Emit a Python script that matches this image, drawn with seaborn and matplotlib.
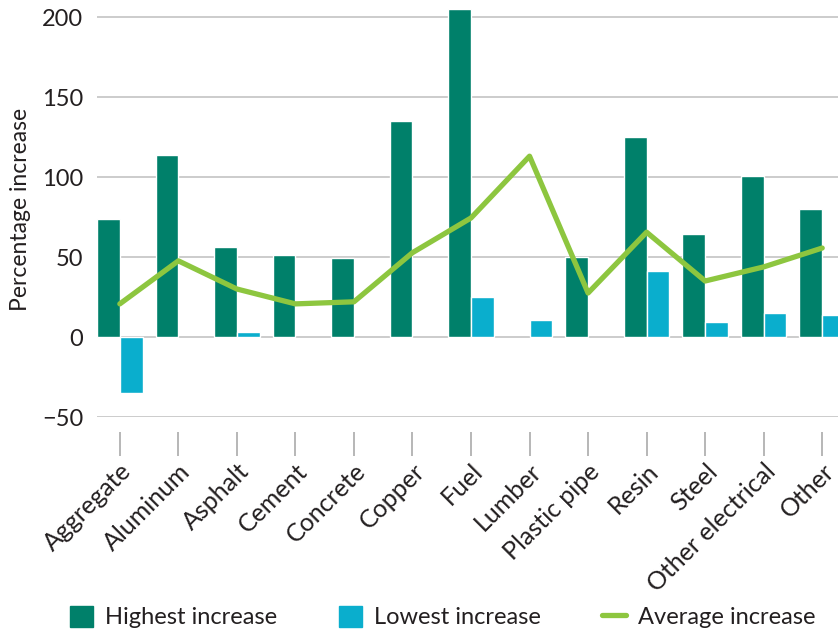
import numpy as np
import pandas as pd
import matplotlib
matplotlib.use("Agg")
import matplotlib.pyplot as plt
import seaborn as sns
from matplotlib.patches import Patch
from matplotlib.lines import Line2D

# Materials and their price increases (%)
materials = ['Aggregate', 'Aluminum', 'Asphalt', 'Cement', 'Concrete', 'Copper',
             'Fuel', 'Lumber', 'Plastic pipe', 'Resin', 'Steel',
             'Other electrical', 'Other']
highest = [74, 113.5, 56, 51, 49.5, 135, 205, np.nan, 50, 125, 64.5, 100.5, 80]
lowest = [-35, np.nan, 3, np.nan, np.nan, np.nan, 25, 10.7, np.nan, 41, 9.4, 15, 13.8]
average = [20.7, 47.6, 30, 20.7, 22, 52.7, 74.4, 113, 27.5, 65.5, 35, 43.8, 55.6]
y_ticks = [-50, 0, 50, 100, 150, 200]

c_high = '#00806a'
c_low = '#0aaecd'
c_avg = '#8dc63f'
txt = '#231f20'

sns.set_theme(style='white')
plt.rcParams['font.family'] = ['Lato', 'DejaVu Sans']

df = pd.DataFrame({
    'Material': materials * 2,
    'Value': highest + lowest,
    'Series': ['Highest increase'] * len(materials) + ['Lowest increase'] * len(materials),
})

fig = plt.figure(figsize=(8.38, 6.29), dpi=100)
ax = fig.add_axes([97 / 838, (629 - 417) / 629, 1 - 97 / 838, 416 / 629])

sns.barplot(data=df, x='Material', y='Value', hue='Series',
            palette=[c_high, c_low], width=0.78, ax=ax, legend=False,
            saturation=1, errorbar=None)
sns.lineplot(x=np.arange(len(materials)), y=average, color=c_avg, lw=3.8,
             ax=ax, label='Average increase', legend=False)

ax.set_ylim(-50, 210)
ax.set_xlim(-0.39, 12.27)
ax.set_yticks(y_ticks)
ax.set_yticklabels(['\u221250' if t < 0 else str(t) for t in y_ticks])
ax.yaxis.grid(True, color='#c8c8c8', lw=1.3)
ax.set_axisbelow(True)
for s in ax.spines.values():
    s.set_visible(False)
ax.spines['bottom'].set_position(('outward', 10.5))

ax.tick_params(axis='y', length=0, pad=10, labelsize=17, labelcolor=txt)
ax.tick_params(axis='x', length=17, width=1.2, color='#aaaaaa', direction='out',
               bottom=True, pad=3, labelsize=18, labelcolor=txt)
plt.setp(ax.get_xticklabels(), rotation=45, ha='right', rotation_mode='anchor')
ax.set_xlabel('')
ax.set_ylabel('Percentage increase', fontsize=16.5, color=txt, labelpad=8)

handles = [Patch(color=c_high), Patch(color=c_low), Line2D([], [], color=c_avg, lw=3.8)]
labels = ['Highest increase', 'Lowest increase', 'Average increase']
fig.legend(handles, labels, ncol=3, loc='center', bbox_to_anchor=(0.528, 0.019),
           frameon=False, fontsize=17, handlelength=1.0, handleheight=1.0,
           handletextpad=0.5, columnspacing=2.6, labelcolor=txt)

fig.savefig('out.png', dpi=100)
